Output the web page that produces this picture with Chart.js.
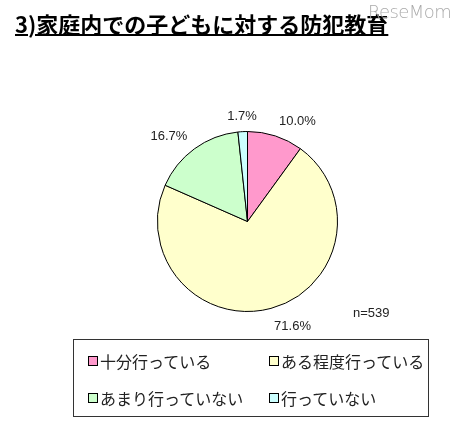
<!DOCTYPE html>
<html><head><meta charset="utf-8">
<script src="https://cdn.jsdelivr.net/npm/chart.js@4/dist/chart.umd.min.js"></script>
<style>
html,body{margin:0;padding:0;background:#fff;}
#wrap{position:relative;width:459px;height:431px;overflow:hidden;}
#c{position:absolute;left:0;top:0;}
#title{position:absolute;left:15px;top:7px;font-family:"Noto Sans CJK JP";font-weight:bold;font-size:22px;color:#000;text-decoration:underline;text-decoration-thickness:2px;text-underline-offset:1px;white-space:nowrap;}
#wm{position:absolute;left:368px;top:1px;font-family:"DejaVu Sans";font-weight:200;font-size:18px;color:#aaaaaa;letter-spacing:-0.6px;}
#n{position:absolute;left:353px;top:305px;font-family:"Liberation Sans";font-size:13px;color:#222;}
#legend{position:absolute;left:73px;top:339px;width:354px;height:76px;border:1.5px solid #333;box-sizing:content-box;font-family:"Noto Sans CJK JP";font-size:16px;color:#222;}
.li{position:absolute;display:flex;align-items:center;white-space:nowrap;}
.sw{width:8px;height:8px;border:1px solid #000;margin-right:2px;}
</style></head>
<body><div id="wrap">
<canvas id="c" width="459" height="431"></canvas>
<div id="title"></div>
<div id="wm">ReseMom</div>
<div id="n"></div>
<div id="legend"></div>
</div>
<script>
const titleText = "3)家庭内での子どもに対する防犯教育";
const categories = ["十分行っている", "ある程度行っている", "あまり行っていない", "行っていない"];
const values = [10.0, 71.6, 16.7, 1.7];
const colors = ["#FF99CC", "#FFFFCC", "#CCFFCC", "#CCFFFF"];
const sampleNote = "n=539";

document.getElementById('title').textContent = titleText;
document.getElementById('n').textContent = sampleNote;

const legendPos = [[14, 9], [195, 9], [14, 46], [195, 46]];
const lg = document.getElementById('legend');
categories.forEach((c, i) => {
  const d = document.createElement('div');
  d.className = 'li';
  d.style.left = legendPos[i][0] + 'px';
  d.style.top = legendPos[i][1] + 'px';
  const s = document.createElement('span');
  s.className = 'sw'; s.style.background = colors[i];
  const t = document.createElement('span'); t.textContent = c;
  d.appendChild(s); d.appendChild(t); lg.appendChild(d);
});

const labelPlugin = {
  id: 'sliceLabels',
  afterDatasetsDraw(chart) {
    const ctx = chart.ctx;
    const meta = chart.getDatasetMeta(0);
    ctx.save();
    ctx.font = '13px "Liberation Sans"';
    ctx.fillStyle = '#222';
    ctx.textBaseline = 'middle';
    meta.data.forEach((arc, i) => {
      const p = arc.getProps(['x','y','startAngle','endAngle','outerRadius'], true);
      const mid = (p.startAngle + p.endAngle) / 2;
      const dx = Math.cos(mid), dy = Math.sin(mid);
      const R = p.outerRadius + 12;
      let x = p.x + dx * R, y = p.y + dy * R + (dy > 0 ? dy * 7 : dy * 3);
      const txt = values[i].toFixed(1) + '%';
      if (dx > 0.1) ctx.textAlign = 'left';
      else if (dx < -0.1) ctx.textAlign = 'right';
      else ctx.textAlign = 'center';
      ctx.fillText(txt, x, y);
    });
    ctx.restore();
  }
};

new Chart(document.getElementById('c'), {
  type: 'pie',
  data: { labels: categories, datasets: [{ data: values, backgroundColor: colors, borderColor: '#000', borderWidth: 1 }] },
  options: {
    responsive: false, animation: false,
    layout: { padding: { left: 157, right: 121, top: 131, bottom: 119 } },
    plugins: { legend: { display: false }, tooltip: { enabled: false }, title: { display: false } }
  },
  plugins: [labelPlugin]
});
</script>
</body></html>
